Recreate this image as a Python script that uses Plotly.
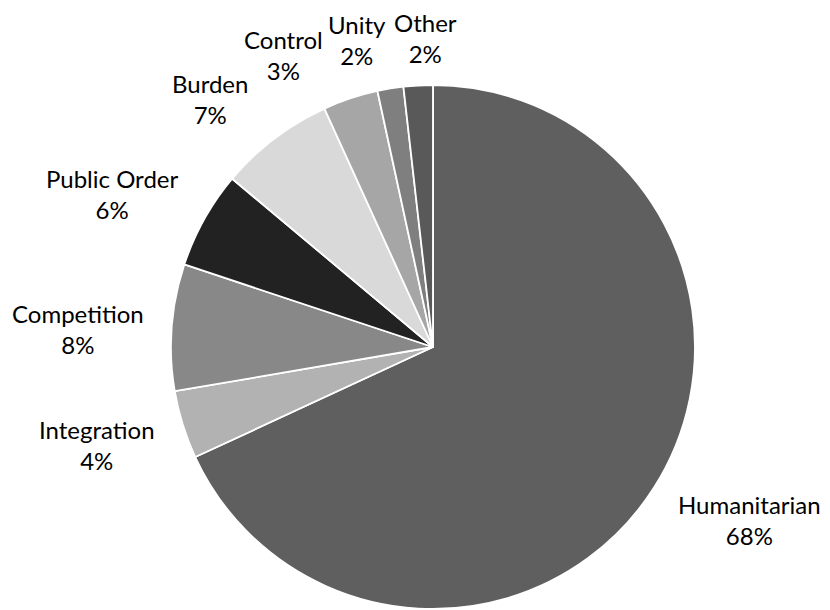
import math
import plotly.graph_objects as go

categories = ["Humanitarian", "Integration", "Competition", "Public Order",
              "Burden", "Control", "Unity", "Other"]
values = [68.1, 4.2, 7.8, 6.0, 7.1, 3.4, 1.6, 1.8]
colors = ["#5f5f5f", "#b2b2b2", "#888888", "#222222",
          "#d9d9d9", "#a6a6a6", "#7f7f7f", "#595959"]

W, H = 830, 610
FONT = "Lato"
FSIZE = 24

# pie placement (layout)
dom_x = [0.2060, 0.8373]
dom_y = [0.0016, 0.8607]

# label layout: gap from pie edge and collision nudges (px) like Excel's best fit
label_gap = 30
label_nudge = [(10, 2), (6, 4), (2, 6), (-3, 2), (-24, 4), (-44, 9), (-24, 6), (11, 8)]

fig = go.Figure(go.Pie(
    labels=categories,
    values=values,
    sort=False,
    direction="clockwise",
    rotation=0,
    marker=dict(colors=colors, line=dict(color="white", width=1.8)),
    textinfo="none",
    domain=dict(x=dom_x, y=dom_y),
    showlegend=False,
    hoverinfo="label+percent",
))

# label positions derived from slice mid-angles
cx = (dom_x[0] + dom_x[1]) / 2 * W
cy = H * (1 - (dom_y[0] + dom_y[1]) / 2)
R = min((dom_x[1] - dom_x[0]) * W, (dom_y[1] - dom_y[0]) * H) / 2
total = sum(values)
cum = 0.0
annotations = []
for name, v, (nx, ny) in zip(categories, values, label_nudge):
    mid = (cum + v / 2) / total * 2 * math.pi
    cum += v
    pct = round(v / total * 100)
    s, c = math.sin(mid), math.cos(mid)
    w_est = 0.5 * FSIZE * len(name)
    h_est = 2 * FSIZE * 1.05
    px = cx + (R + label_gap) * s + s * w_est / 2 + nx
    py = cy - (R + label_gap) * c - c * h_est / 2 + ny
    annotations.append(dict(
        x=px / W, y=1 - py / H, xref="paper", yref="paper",
        text=f"{name}<br>{pct}%", showarrow=False,
        xanchor="center", yanchor="middle", align="center",
        font=dict(family=FONT, size=FSIZE, color="#000000"),
    ))

fig.update_layout(
    width=W, height=H,
    margin=dict(l=0, r=0, t=0, b=0, autoexpand=False),
    paper_bgcolor="white",
    plot_bgcolor="white",
    annotations=annotations,
)

fig.write_html("out.html", config={"displayModeBar": False},
               post_script="document.body.style.margin='0';")
